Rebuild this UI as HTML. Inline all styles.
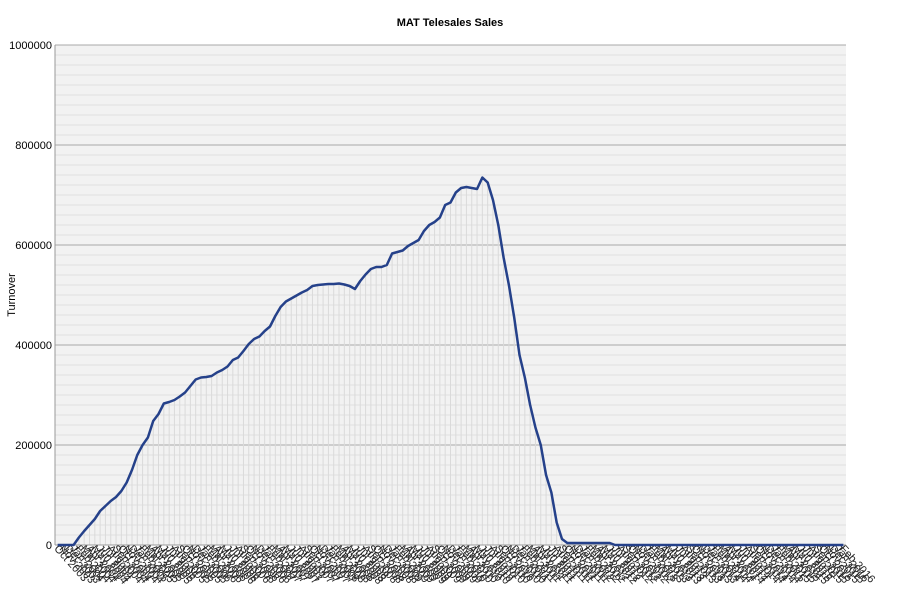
<!DOCTYPE html>
<html><head><meta charset="utf-8"><style>
body{margin:0;background:#fff;}
svg text{font-family:"Liberation Sans",sans-serif;}
</style></head><body>
<svg id="chart" width="900" height="600" xmlns="http://www.w3.org/2000/svg">
<text x="450" y="26" text-anchor="middle" font-size="11" font-weight="bold">MAT Telesales Sales</text>
<text transform="translate(15,295) rotate(-90)" text-anchor="middle" font-size="11">Turnover</text>
<g id="plot"></g>
</svg>
<script>
const months=['Jan','Feb','Mar','Apr','May','Jun','Jul','Aug','Sep','Oct','Nov','Dec'];
const categories=[];
for(let y=2003;y<=2016;y++){for(let m=0;m<12;m++){if(y===2003&&m<9)continue;if(y===2016&&m>1)continue;categories.push(months[m]+' '+y);}}
const values=[0,0,0,0,15000,28000,40000,52000,68000,78000,88000,96000,108000,125000,150000,180000,200000,215000,248000,262000,283000,286000,290000,297000,305000,318000,331000,335000,336000,338000,345000,350000,357000,370000,375000,388000,402000,412000,417000,428000,437000,458000,476000,487000,493000,499000,505000,510000,518000,520000,521000,522000,522000,523000,521000,518000,512000,528000,541000,552000,556000,556000,560000,583000,586000,589000,598000,604000,610000,628000,640000,646000,655000,680000,685000,705000,714000,716000,714000,712000,735000,725000,690000,640000,575000,520000,455000,380000,335000,280000,235000,200000,140000,105000,45000,12000,4000,4000,4000,4000,4000,4000,4000,4000,4000,
0,0,0,0,0,0,0,0,0,0,0,
0,0,0,0,0,0,0,0,0,0,0,
0,0,0,0,0,0,0,0,0,0,0,
0,0,0,0,0,0,0,0,0,0,0];
const yTicks=[0,200000,400000,600000,800000,1000000];
const X0=55,X1=846,Y0=545,Y1=45,YMAX=1000000;
const NS='http://www.w3.org/2000/svg';
const g=document.getElementById('plot');
const step=(X1-X0)/categories.length;
const xs=i=>X0+step*(i+0.5);
const ys=v=>Y0-(v/YMAX)*(Y0-Y1);
function mk(t,a){const e=document.createElementNS(NS,t);for(const k in a)e.setAttribute(k,a[k]);g.appendChild(e);return e;}
const bg=mk('rect',{x:X0,y:Y1,width:X1-X0,height:Y0-Y1,fill:'#f2f2f2'});


for(let v=0;v<=YMAX;v+=20000){
 const major=v%200000===0;
 const l=mk('line',{x1:X0,x2:X1,y1:ys(v),y2:ys(v),stroke:major?'#a8a8a8':'#e0e0e0','stroke-width':1});
 
 
}
const n=Math.min(categories.length,values.length);
for(let i=0;i<n;i++){
 const d=mk('line',{x1:xs(i),x2:xs(i),y1:Y0,y2:ys(values[i]),stroke:'#dadada','stroke-width':1});
 
 
}
categories.forEach((c,i)=>{
 const t=mk('text',{x:0,y:0,'font-size':11,fill:'#222',transform:`translate(${xs(i)-4},${Y0+4}) rotate(48)`});
 t.textContent=c;
 
 
});
yTicks.forEach(v=>{
 const t=mk('text',{x:X0-3,y:ys(v)+4,'font-size':11,'text-anchor':'end'});
 t.textContent=String(v);
 
 
});
const ax=mk('line',{x1:X0,x2:X0,y1:Y1,y2:Y0,stroke:'#999','stroke-width':1});


const bx=mk('line',{x1:X0,x2:X1,y1:Y0,y2:Y0,stroke:'#999','stroke-width':1});


const pts=[];for(let i=0;i<n;i++)pts.push(xs(i)+','+ys(values[i]));
const p=mk('polyline',{points:pts.join(' '),fill:'none',stroke:'#25418a','stroke-width':2.5,'stroke-linejoin':'round'});


</script>
</body></html>
